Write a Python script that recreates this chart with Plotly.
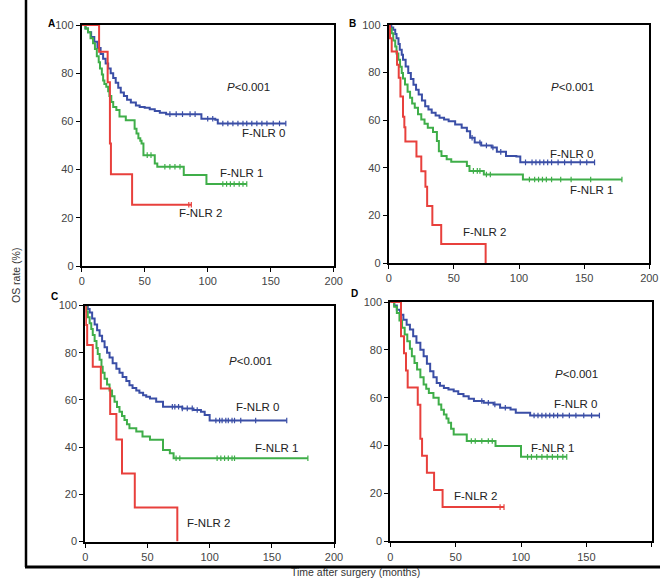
import plotly.graph_objects as go

# ---- Panel A ----
A0_T = [0, 3, 5, 7.5, 10, 12.5, 15, 17, 19, 21, 23, 25, 27, 29, 31, 33.5, 36, 39, 43, 46, 50, 54, 58, 62, 67, 95, 106, 108]
A0_S = [100, 98.5, 97, 95, 93, 90.5, 88, 86, 84, 82, 80, 78, 76, 74, 72, 70.5, 69, 67.8, 66.6, 66, 65.7, 65, 64.3, 63.6, 63, 61.1, 60.7, 59.1]
A0_C = [70, 75, 80, 86, 90, 100, 104, 112, 116, 120, 124, 128, 131, 135, 139, 143, 147, 152, 157, 162]
A1_T = [0, 3, 5, 7, 9, 10.5, 12, 13.5, 14.5, 16, 17, 18, 19.5, 21, 22, 23.5, 25, 27.5, 30, 35, 42, 43.5, 45, 46.5, 47.5, 49, 58, 60, 81, 99]
A1_S = [100, 98.5, 97, 94.5, 92.4, 90, 87, 84.5, 82, 79.5, 77, 75.5, 74.4, 72.5, 70.5, 68, 66, 64.7, 62, 60.5, 57, 55, 53, 52, 50.8, 46, 42.5, 41.2, 37.8, 34]
A1_C = [52, 55, 66, 70, 74, 78, 112, 115, 118, 121, 125, 128, 131]
A2_T = [0, 13.8, 20.6, 22.4, 23.2, 40]
A2_S = [100, 88.9, 76.2, 50.8, 38.1, 25.4]
A2_C = [85, 87]

# ---- Panel B ----
B0_T = [0, 2, 3.5, 5, 6, 7.5, 8.5, 10, 11, 13, 15, 17, 19, 21, 23, 25.5, 28, 30.5, 33, 36, 39, 42.5, 46, 51, 56, 60, 62.5, 66, 71, 79, 83, 90, 98, 101]
B0_S = [100, 99, 98, 96.2, 94.4, 92, 89.6, 87.5, 85.4, 82.6, 79.8, 77.3, 74.9, 72.8, 70.8, 68.3, 65.9, 64.5, 63.1, 62, 61, 60.3, 59.6, 58.2, 56.8, 55.4, 52.6, 50.6, 49.4, 48.5, 46.7, 45, 44.7, 42.3]
B0_C = [64, 70, 75, 80, 86, 105, 110, 113, 116, 119, 122, 125, 130, 135, 140, 147, 152, 158]
B1_T = [0, 1, 2.3, 3.5, 5, 6, 7.4, 8.7, 10, 11, 12.5, 14.5, 16.4, 18, 20, 22.5, 25, 27.5, 30, 34, 37, 38.5, 40.5, 44.5, 48, 60, 62, 73, 103]
B1_S = [100, 98.5, 96.5, 93.5, 91, 88, 85.4, 82.5, 79.8, 77.5, 75, 72, 69.4, 67, 65.2, 62.5, 60.3, 58.5, 56.8, 55, 51.3, 47, 45, 43.6, 42.5, 40.8, 38.7, 37.2, 35.1]
B1_C = [65, 68, 70, 75, 78, 108, 112, 115, 118, 121, 125, 132, 140, 155, 179]
B2_T = [0, 1, 2.3, 6.4, 7.7, 9, 11, 12, 12.8, 21.3, 25, 28.2, 29.5, 33.5, 40.3, 74.4]
B2_S = [100, 94.4, 88.9, 83.3, 77.8, 70, 61.5, 57, 51, 44.8, 38.5, 32, 24, 16, 8, 0]
B2_C = []

# ---- Panel C ----
C0_T = [0, 2, 3.5, 5.5, 7.5, 9.5, 11.5, 13.5, 15.5, 17.5, 19.5, 22, 25, 27.5, 30, 33, 35.5, 38, 41, 43.5, 46.5, 49, 52, 57, 62.5, 78, 87, 93, 96, 100]
C0_S = [100, 98.5, 97, 94.5, 92, 89.5, 87.2, 84.8, 82.3, 80, 78, 75.5, 73.2, 71.5, 69.7, 68, 66.2, 65, 64, 63, 62, 61.3, 60.6, 59.2, 57.1, 56.4, 55.7, 55, 53.6, 51.3]
C0_C = [70, 72, 75, 78, 82, 86, 90, 105, 108, 110, 113, 115, 118, 120, 125, 137, 162]
C1_T = [0, 1, 2, 3.5, 4.8, 6, 7.5, 9, 10, 11.5, 13, 14, 15.5, 17.5, 19.5, 21.5, 23.5, 25.5, 27.5, 29.5, 31.5, 33.5, 35.5, 41, 46, 52, 62.5, 68, 71]
C1_S = [100, 97.5, 95, 92.5, 90, 87.5, 85, 82, 79.5, 77, 74, 71.5, 69, 66.5, 64, 61.5, 59.2, 57, 55, 53.2, 51.5, 49.7, 48, 46.6, 44.5, 43.1, 38.8, 37.4, 35.3]
C1_C = [73, 76, 106, 109, 112, 115, 118, 120, 179]
C2_T = [0, 0.5, 1.5, 6, 12.5, 20, 25, 29.5, 39.8, 74]
C2_S = [100, 91.7, 83.3, 74, 64.8, 54, 43.2, 28.8, 14.4, 0]
C2_C = []

# ---- Panel D ----
D0_T = [0, 3, 5, 7.5, 10, 12.5, 15, 17.5, 20, 23, 25.5, 28, 30.5, 33, 35.5, 38, 41, 44.5, 48.5, 52, 56, 60, 64, 71.5, 79, 84, 92, 96, 107]
D0_S = [100, 98.5, 96.8, 94.7, 92.6, 90.5, 88.5, 85.7, 83, 80, 77.3, 74.2, 71.1, 68.6, 66.2, 65, 64.1, 63.4, 62.7, 61.6, 60.6, 59.6, 58.6, 57.9, 57.2, 55.8, 55.1, 53.7, 52.6]
D0_C = [70, 75, 80, 88, 110, 113, 116, 119, 122, 125, 128, 132, 137, 142, 148, 154, 160]
D1_T = [0, 3, 5, 7, 9, 11, 13, 15, 16.5, 18.5, 20.5, 23, 25.5, 27.5, 29.5, 33, 37, 39, 41, 43, 44.5, 46.5, 48.5, 58.5, 80.5, 100]
D1_S = [100, 98, 95.4, 92.3, 89.2, 86.4, 83.6, 80.5, 77.3, 74.5, 71.8, 68.6, 65.5, 63.7, 62, 60, 57.2, 55, 53, 51.3, 49.5, 47, 44.6, 41.9, 39.8, 35.3]
D1_C = [62, 65, 70, 75, 78, 105, 108, 112, 116, 120, 124, 128, 132, 135]
D2_T = [0, 8.2, 10.5, 12, 13.3, 21, 23, 24.3, 28, 33.5, 40]
D2_S = [100, 85.7, 78.6, 71.4, 64.3, 57.1, 42.9, 35.7, 28.6, 21.4, 14.3]
D2_C = [84, 87]

GROUPS = ["F-NLR 0", "F-NLR 1", "F-NLR 2"]
COLORS = ["#3a4ea6", "#3fae49", "#e8403c"]

W, H = 660, 587

# panel: (letter, box px [x0, x1, ytop, ybottom], curves, label positions, p position)
PANELS = [
    ("A", [81.7, 333.7, 25, 266],
     [(A0_T, A0_S, A0_C), (A1_T, A1_S, A1_C), (A2_T, A2_S, A2_C)],
     [(144, 55.2), (127, 38.6), (94, 22)], (132, 74.3)),
    ("B", [388.7, 649.3, 25, 263],
     [(B0_T, B0_S, B0_C), (B1_T, B1_S, B1_C), (B2_T, B2_S, B2_C)],
     [(140, 45.9), (156, 30.5), (73.6, 13)], (141, 73.8)),
    ("C", [85.3, 334, 305.5, 541.5],
     [(C0_T, C0_S, C0_C), (C1_T, C1_S, C1_C), (C2_T, C2_S, C2_C)],
     [(138.4, 56.8), (153.5, 39.8), (99, 7.8)], (132.5, 76.6)),
    ("D", [390.3, 651.7, 302, 541.3],
     [(D0_T, D0_S, D0_C), (D1_T, D1_S, D1_C), (D2_T, D2_S, D2_C)],
     [(141.5, 57.5), (124.4, 39), (65.4, 18.9)], (142.3, 70)),
]

FONT = "Liberation Sans, Arial, sans-serif"


def step_value(times, surv, t):
    val = surv[0]
    for ti, si in zip(times, surv):
        if ti <= t:
            val = si
    return val


def get_curve(times, surv, cens, color, xref, yref):
    end = max([times[-1]] + list(cens))
    xs = list(times)
    ys = list(surv)
    if end > xs[-1]:
        xs.append(end)
        ys.append(ys[-1])
    line = go.Scatter(
        x=xs, y=ys, mode="lines", line_shape="hv",
        line={"color": color, "width": 2},
        xaxis=xref, yaxis=yref, hoverinfo="skip"
    )
    ticks = go.Scatter(
        x=cens, y=[step_value(times, surv, c) for c in cens],
        mode="markers",
        marker={"symbol": "line-ns", "size": 4,
                "line": {"color": color, "width": 1.2}},
        xaxis=xref, yaxis=yref, hoverinfo="skip"
    )
    return [line, ticks]


fig = go.Figure()
layout = {
    "width": W, "height": H,
    "margin": {"l": 0, "r": 0, "t": 0, "b": 0, "pad": 0},
    "plot_bgcolor": "white", "paper_bgcolor": "white",
    "showlegend": False,
    "font": {"family": FONT, "color": "#333"},
}
annotations = []
for i, (letter, box, curves, labpos, ppos) in enumerate(PANELS):
    sfx = "" if i == 0 else str(i + 1)
    xref, yref = "x" + sfx, "y" + sfx
    for j, (t, s, c) in enumerate(curves):
        for tr in get_curve(t, s, c, COLORS[j], xref, yref):
            fig.add_trace(tr)
    dx = [box[0] / W, box[1] / W]
    dy = [1 - box[3] / H, 1 - box[2] / H]
    axis_common = {
        "showline": True, "mirror": True, "linecolor": "black", "linewidth": 2,
        "ticks": "outside", "ticklen": 4, "tickcolor": "black", "tickwidth": 1,
        "showgrid": False, "zeroline": False, "automargin": False,
        "tickfont": {"size": 11, "color": "#444", "family": FONT},
        "fixedrange": True,
    }
    layout["xaxis" + sfx] = dict(axis_common, domain=dx, range=[0, 200],
                                 tickvals=[0, 50, 100, 150, 200], anchor=yref)
    layout["yaxis" + sfx] = dict(axis_common, domain=dy, range=[0, 100],
                                 tickvals=[0, 20, 40, 60, 80, 100], anchor=xref)
    for g, (lx, ly) in zip(GROUPS, labpos):
        annotations.append({"x": lx, "y": ly, "xref": xref, "yref": yref,
                            "text": g, "showarrow": False,
                            "font": {"size": 11.5, "color": "#222"}})
    annotations.append({"x": ppos[0], "y": ppos[1], "xref": xref, "yref": yref,
                        "text": "<i>P</i>&lt;0.001", "showarrow": False,
                        "font": {"size": 11.5, "color": "#222"}})
    annotations.append({"x": (box[0] - 36) / W, "y": 1 - (box[2] - 9) / H,
                        "xref": "paper", "yref": "paper",
                        "text": "<b>%s</b>" % letter, "showarrow": False,
                        "font": {"size": 10, "color": "black"}})

annotations.append({"x": 8 / W, "y": 1 - 276 / H, "xref": "paper", "yref": "paper",
                    "text": "OS rate (%)", "textangle": -90, "showarrow": False,
                    "font": {"size": 10.5, "color": "#333"}})
annotations.append({"x": 355 / W, "y": 1 - 580 / H, "xref": "paper", "yref": "paper",
                    "text": "Time after surgery (months)", "showarrow": False,
                    "font": {"size": 10.5, "color": "#333"}})
layout["annotations"] = annotations
layout["shapes"] = [
    {"type": "line", "xref": "paper", "yref": "paper",
     "x0": 26 / W, "x1": 26 / W, "y0": 1, "y1": 1 - 567 / H,
     "line": {"color": "black", "width": 2.5}},
    {"type": "line", "xref": "paper", "yref": "paper",
     "x0": 25 / W, "x1": 1, "y0": 1 - 567 / H, "y1": 1 - 567 / H,
     "line": {"color": "black", "width": 3}},
]
fig.update_layout(layout)
fig.write_html("out.html", config={"displayModeBar": False},
               post_script="document.body.style.margin='0';")
